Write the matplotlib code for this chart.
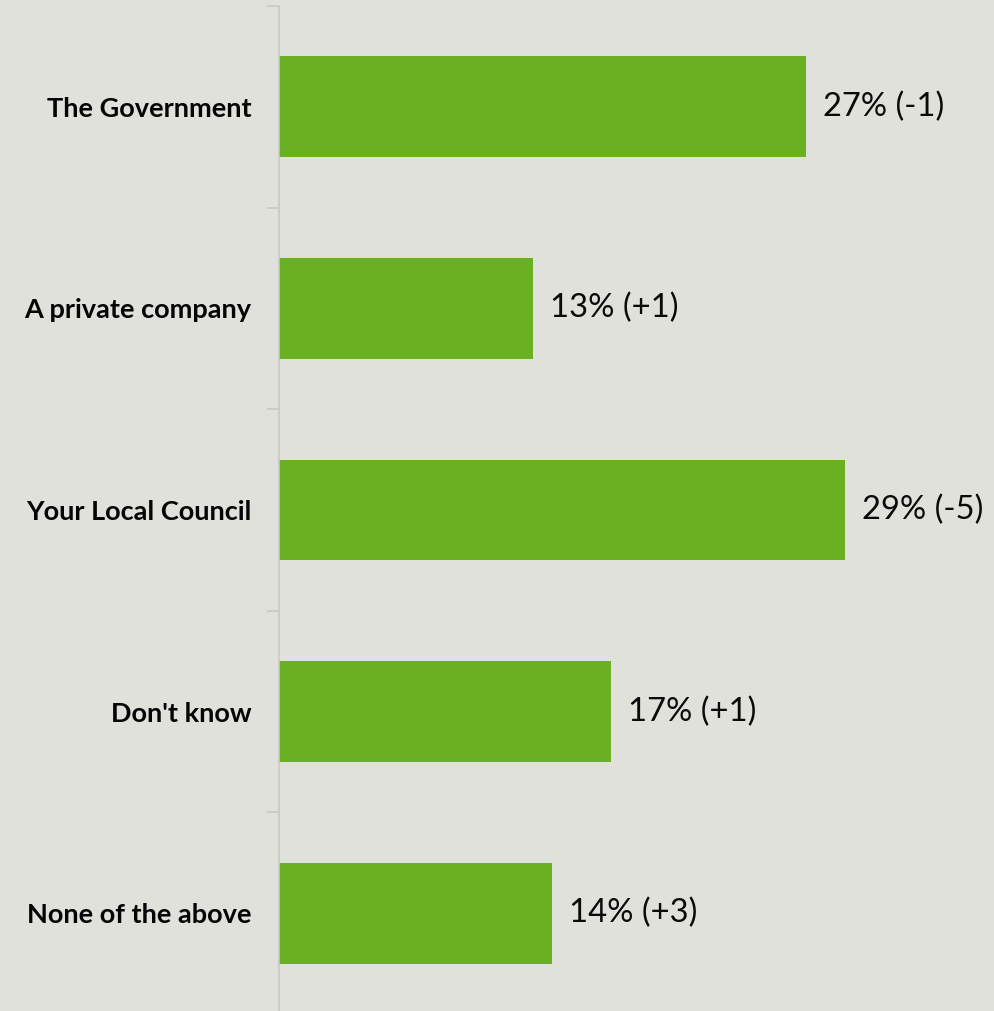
import matplotlib
matplotlib.use("Agg")
import matplotlib.pyplot as plt

categories = ["The Government", "A private company", "Your Local Council", "Don't know", "None of the above"]
values = [27, 13, 29, 17, 14]
changes = ["-1", "+1", "-5", "+1", "+3"]

bg = "#E1E1DB"
green = "#6AB023"

fig = plt.figure(figsize=(9.94, 10.11), dpi=100, facecolor=bg)
W, H = 994, 1011
top_px, bot_px = 6, 1014
ax = fig.add_axes([279 / W, 1 - bot_px / H, 1 - 279 / W, (bot_px - top_px) / H])
ax.set_facecolor(bg)

y = list(range(len(categories)))
ax.barh(y, values, height=0.5, color=green, zorder=2)
ax.set_ylim(len(categories) - 0.5, -0.5)
ax.set_xlim(0, 715 / 19.52)

for yi, v, c in zip(y, values, changes):
    ax.text(v + 17 / 19.52, yi, f"{v}% ({c})", va="center", ha="left",
            fontsize=23.6, family="Lato", color="#0A0A0A")

ax.set_yticks(y)
ax.set_yticklabels(categories, fontsize=19.5, fontweight="bold", family="Lato", color="#050505")
ax.set_yticks([i - 0.5 for i in range(len(categories) + 1)], minor=True)
ax.tick_params(axis="y", which="major", length=0, pad=20)
ax.tick_params(axis="y", which="minor", length=9, color="#C8C8C8", width=1.2)
ax.set_xticks([])
for s in ["top", "right", "bottom"]:
    ax.spines[s].set_visible(False)
ax.spines["left"].set_color("#C8C8C8")
ax.spines["left"].set_linewidth(1.2)

fig.savefig("out.png", dpi=100, facecolor=bg)
